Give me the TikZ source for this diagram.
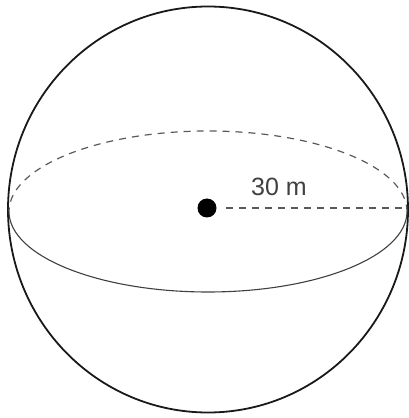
\documentclass[tikz,border=0pt]{standalone}
\usepackage{fontspec}
\setmainfont{Liberation Sans}
\begin{document}
\begin{tikzpicture}[x=1pt,y=1pt,
  outline/.style={line width=1.8pt,black!90},
  equator/.style={line width=1.1pt,black!75},
  hidden/.style={line width=1.2pt,black!65,dash pattern=on 7pt off 6pt},
  dotnode/.style={circle,fill=black,inner sep=0pt,minimum size=19pt},
  lbl/.style={font=\fontsize{25}{29}\selectfont,text=black!75,inner sep=0pt}]
\useasboundingbox (0,0) rectangle (409,418);
\draw[outline] (208,208.5) ellipse [x radius=200, y radius=203];
\draw[hidden] (407,206.5) arc[start angle=0,end angle=180,x radius=199,y radius=80.5];
\draw[equator] (9,206.5) arc[start angle=180,end angle=360,x radius=199,y radius=80.5];
\node[dotnode] (c) at (207,210) {};
\coordinate (e) at (406,210);
\draw[hidden,shorten <=9pt] (c) -- (e);
\node[lbl] (r) at (279,231) {30 m};
\end{tikzpicture}
\end{document}
